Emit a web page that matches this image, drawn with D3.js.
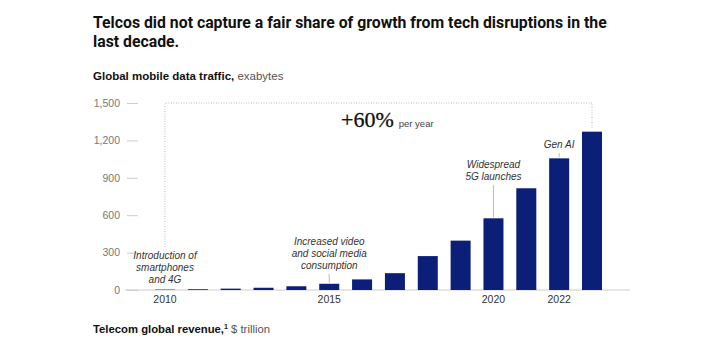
<!DOCTYPE html>
<html lang="en">
<head>
    <meta charset="UTF-8">
    <title>Global mobile data traffic</title>
    <style>
        body { margin: 0; background: #fff; }
        svg text { font-family: "Liberation Sans", Arial, sans-serif; }
    </style>
</head>
<body>
    <svg id="svg" width="720" height="340"></svg>

    <script src="https://d3js.org/d3.v7.min.js"></script>
    <script>
        // data
        const years = [2010, 2011, 2012, 2013, 2014, 2015, 2016, 2017, 2018, 2019, 2020, 2021, 2022, 2023]
        const traffic = [3, 6, 11, 18, 30, 50, 85, 135, 272, 396, 575, 816, 1056, 1270]
        const yTicks = [0, 300, 600, 900, 1200, 1500]
        const xLabels = [2010, 2015, 2020, 2022]

        const notes = [
            { year: 2010, lines: ["Introduction of", "smartphones", "and 4G"] },
            { year: 2015, lines: ["Increased video", "and social media", "consumption"] },
            { year: 2020, lines: ["Widespread", "5G launches"] },
            { year: 2022, lines: ["Gen AI"] }
        ]

        const data = years.map((y, i) => ({ year: y, value: traffic[i] }))

        const svg = d3.select("#svg")
        const navy = "#0b1e78"

        // titles
        const title = svg.append("text")
            .attr("x", 93)
            .attr("font-size", 15.8)
            .attr("font-weight", "bold")
            .attr("fill", "#111")
            .style("font-family", "Roboto, 'Liberation Sans', sans-serif")
        title.append("tspan").attr("x", 93).attr("y", 28)
            .text("Telcos did not capture a fair share of growth from tech disruptions in the")
        title.append("tspan").attr("x", 93).attr("y", 47)
            .text("last decade.")

        const sub = svg.append("text")
            .attr("x", 93).attr("y", 80)
            .attr("font-size", 11.5)
            .attr("fill", "#111")
        sub.append("tspan").attr("font-weight", "bold").text("Global mobile data traffic,")
        sub.append("tspan").attr("fill", "#555").text(" exabytes")

        const foot = svg.append("text")
            .attr("x", 93).attr("y", 333)
            .attr("font-size", 11.3)
            .attr("fill", "#111")
        foot.append("tspan").attr("font-weight", "bold").text("Telecom global revenue,")
        foot.append("tspan").attr("font-weight", "bold").attr("font-size", 7).attr("dy", -4).text("1")
        foot.append("tspan").attr("fill", "#555").attr("dy", 4).text(" $ trillion")

        // scales
        const xscale = d3.scalePoint()
            .domain(years)
            .range([165, 592])
        const barW = 20

        const yscale = d3.scaleLinear()
            .domain([0, 1500])
            .range([290, 103])

        // y axis
        const yAxis = svg.append("g")
            .attr("transform", "translate(138, 0)")
            .call(d3.axisLeft(yscale).tickValues(yTicks).tickSize(11).tickPadding(7)
                .tickFormat(d3.format(",")))
        yAxis.select(".domain").remove()
        yAxis.selectAll("line").attr("stroke", "#ccc")
        yAxis.selectAll("text").attr("fill", "#777").attr("font-size", 10.5)
            .attr("font-family", "Liberation Sans, Arial, sans-serif")

        // baseline
        svg.append("line")
            .attr("x1", 125).attr("x2", 630)
            .attr("y1", yscale(0)).attr("y2", yscale(0))
            .attr("stroke", "#ccc")

        // x labels
        svg.append("g")
            .selectAll("text")
            .data(xLabels)
            .enter()
            .append("text")
            .attr("x", d => xscale(d))
            .attr("y", 303)
            .attr("text-anchor", "middle")
            .attr("font-size", 10.5)
            .attr("fill", "#333")
            .text(d => d)

        // bars
        svg.append("g")
            .selectAll("rect")
            .data(data)
            .enter()
            .append("rect")
            .attr("x", d => xscale(d.year) - barW / 2)
            .attr("y", d => yscale(d.value))
            .attr("width", barW)
            .attr("height", d => yscale(0) - yscale(d.value))
            .attr("fill", navy)

        // growth bracket
        const first = data[0], last = data[data.length - 1]
        svg.append("path")
            .attr("d", `M${xscale(first.year)},247 V${yscale(1500)} H${xscale(last.year)} V${yscale(last.value) - 2}`)
            .attr("fill", "none")
            .attr("stroke", "#bbb")
            .attr("stroke-dasharray", "1,1.5")

        const growth = svg.append("text")
            .attr("x", 341).attr("y", 127)
        growth.append("tspan")
            .attr("font-family", "Liberation Serif, serif")
            .attr("font-size", 22)
            .attr("fill", "#111")
            .attr("stroke", "#111")
            .attr("stroke-width", 0.3)
            .text("+60%")
        growth.append("tspan")
            .attr("font-size", 9.5)
            .attr("fill", "#444")
            .attr("dx", 5)
            .text("per year")

        // annotations
        const lineH = 12
        notes.forEach(n => {
            const d = data.find(e => e.year === n.year)
            const cx = xscale(n.year)
            const top = yscale(d.value)
            let lastBase
            if (n.year === 2010) {
                lastBase = 283
            } else if (n.year === 2015) {
                lastBase = 269
            } else if (n.year === 2020) {
                lastBase = 180
            } else {
                lastBase = 148
            }
            const firstBase = lastBase - (n.lines.length - 1) * lineH
            svg.append("text")
                .attr("text-anchor", "middle")
                .attr("font-size", 10)
                .attr("font-style", "italic")
                .attr("fill", "#333")
                .selectAll("tspan")
                .data(n.lines)
                .enter()
                .append("tspan")
                .attr("x", cx)
                .attr("y", (l, i) => firstBase + i * lineH)
                .text(l => l)
            if (n.year !== 2010) {
                svg.append("line")
                    .attr("x1", cx).attr("x2", cx)
                    .attr("y1", lastBase + 5).attr("y2", top - 1)
                    .attr("stroke", "#bbb")
            }
        })
    </script>
</body>
</html>
